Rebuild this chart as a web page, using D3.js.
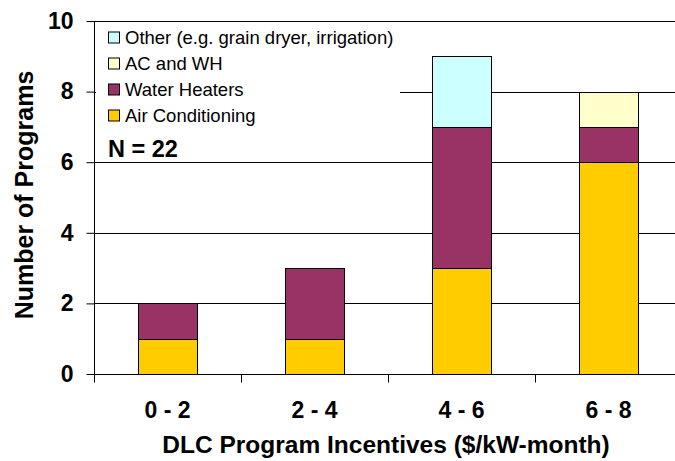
<!DOCTYPE html>
<html><head><meta charset="utf-8">
<script src="https://cdn.jsdelivr.net/npm/d3@7"></script>
<style>body{margin:0;background:#fff}svg{display:block;font-family:"Liberation Sans",Arial,sans-serif}</style>
</head><body><svg id="c" width="675" height="461"></svg>
<script>
const categories = ["0 - 2", "2 - 4", "4 - 6", "6 - 8"];
const airConditioning = [1, 1, 3, 6];
const waterHeaters = [1, 2, 4, 1];
const acAndWh = [0, 0, 0, 1];
const other = [0, 0, 2, 0];
const seriesNames = ["Air Conditioning", "Water Heaters", "AC and WH", "Other (e.g. grain dryer, irrigation)"];
const seriesColors = ["#FFCC00", "#993366", "#FFFFCC", "#CCFFFF"];
const yTicks = [0, 2, 4, 6, 8, 10];
const nLabel = "N = 22";

(function () {
const svg = d3.select("#c");
const mLeft = 94, mRight = 682, mTop = 21, mBottom = 374;
const x = d3.scaleBand().domain(categories).range([mLeft, mRight]).paddingInner(0.6).paddingOuter(0.3);
const xTickScale = d3.scaleLinear().domain([0, categories.length]).range([mLeft, mRight]);
const y = d3.scaleLinear().domain([0, 10]).range([mBottom, mTop]);

const rows = categories.map((c, i) => ({cat: c, s0: airConditioning[i], s1: waterHeaters[i], s2: acAndWh[i], s3: other[i]}));
const stack = d3.stack().keys(["s0", "s1", "s2", "s3"])(rows);

// gridlines
svg.append("g").selectAll("line").data(yTicks.filter(t => t > 0)).join("line")
  .attr("x1", mLeft).attr("x2", 675).attr("y1", d => Math.round(y(d)) + 0.5).attr("y2", d => Math.round(y(d)) + 0.5)
  .attr("stroke", "#000").attr("stroke-width", 1);

// bars
svg.append("g").selectAll("g").data(stack).join("g")
  .attr("fill", (d, i) => seriesColors[i])
  .selectAll("rect").data(d => d.filter(v => v[1] - v[0] > 0)).join("rect")
  .attr("x", d => Math.round(x(d.data.cat)) + 0.5)
  .attr("width", Math.round(x.bandwidth()))
  .attr("y", d => Math.round(y(d[1])) + 0.5)
  .attr("height", d => Math.round(y(d[0])) - Math.round(y(d[1])))
  .attr("stroke", "#000").attr("stroke-width", 1);

// y axis
const yAxis = d3.axisLeft(y).tickValues(yTicks).tickSize(8).tickPadding(13).tickFormat(d3.format("d"));
const gy = svg.append("g").attr("transform", `translate(${mLeft + 0.5},0)`).call(yAxis);
gy.select(".domain").attr("d", `M0,${mBottom + 8}V${mTop}`).attr("stroke", "#000");
gy.selectAll(".tick line").attr("stroke", "#000");
gy.selectAll(".tick text").attr("font-size", 23).attr("font-weight", "bold").attr("fill", "#000")
  .attr("font-family", "'Liberation Sans',Arial,sans-serif");

// x axis
const xAxis = d3.axisBottom(xTickScale).tickValues(d3.range(categories.length + 1)).tickSize(8).tickFormat("");
const gx = svg.append("g").attr("transform", `translate(0,${mBottom + 0.5})`).call(xAxis);
gx.select(".domain").attr("d", `M${mLeft},0H675`).attr("stroke", "#000");
gx.selectAll(".tick line").attr("stroke", "#000");
svg.append("g").selectAll("text").data(categories).join("text")
  .attr("x", d => x(d) + x.bandwidth() / 2).attr("y", 418)
  .attr("text-anchor", "middle").attr("font-size", 23).attr("font-weight", "bold").text(d => d);

// axis titles
svg.append("text").attr("transform", "translate(32.5,195) rotate(-90)").attr("text-anchor", "middle")
  .attr("font-size", 25).attr("font-weight", "bold").text("Number of Programs");
svg.append("text").attr("x", 386).attr("y", 453).attr("text-anchor", "middle")
  .attr("font-size", 24.5).attr("font-weight", "bold").text("DLC Program Incentives ($/kW-month)");

// legend
const lg = svg.append("g");
lg.append("rect").attr("x", mLeft + 2).attr("y", mTop + 2).attr("width", 304).attr("height", 137).attr("fill", "#fff");
const legendOrder = [3, 2, 1, 0];
const li = lg.selectAll("g.item").data(legendOrder).join("g").attr("class", "item")
  .attr("transform", (d, i) => `translate(0,${43.5 + i * 26})`);
li.append("rect").attr("x", 108.5).attr("y", -11.5).attr("width", 11).attr("height", 11)
  .attr("fill", d => seriesColors[d]).attr("stroke", "#000").attr("stroke-width", 1);
li.append("text").attr("x", 125).attr("y", 0).attr("font-size", 18.5).text(d => seriesNames[d]);
lg.append("text").attr("x", 108).attr("y", 157).attr("font-size", 23.5).attr("font-weight", "bold").text(nLabel);
})();
</script></body></html>
